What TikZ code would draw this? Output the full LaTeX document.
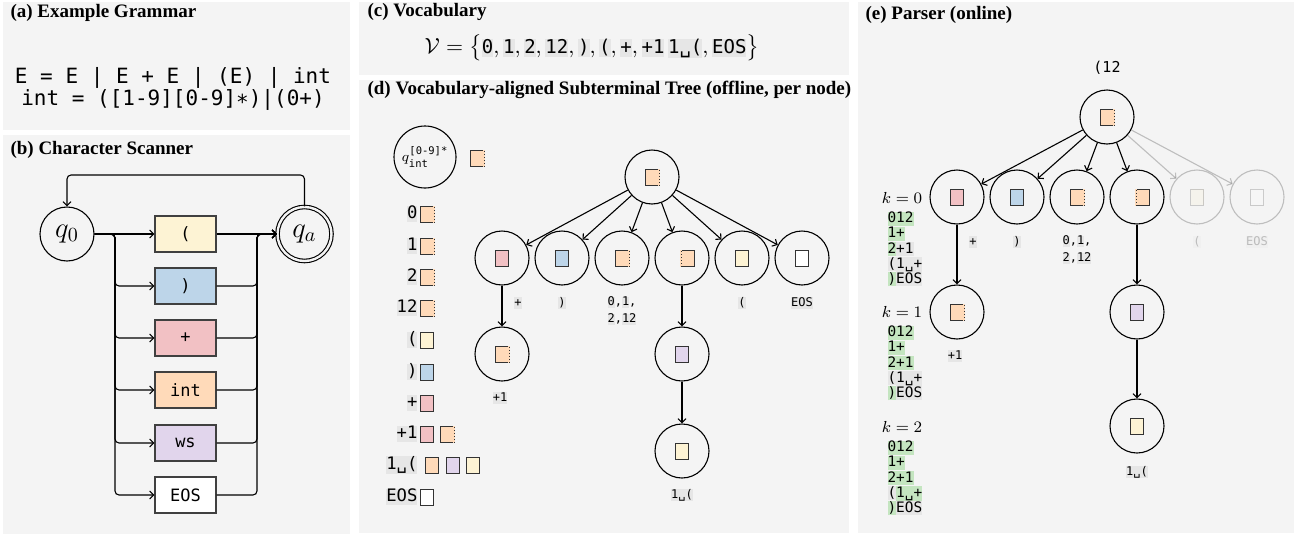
\documentclass[tikz,border=0pt]{standalone}
\usepackage{fontspec}
\usepackage{amsmath}
\setmainfont{Liberation Serif}
\setmonofont{DejaVu Sans Mono}
\usetikzlibrary{calc,positioning,arrows.meta}

\definecolor{panelbg}{HTML}{F4F4F4}
\definecolor{tokbg}{HTML}{E6E6E6}
\definecolor{tokgreen}{HTML}{C4E5C0}
\definecolor{yelc}{HTML}{FDF3D4}
\definecolor{bluec}{HTML}{BDD5E9}
\definecolor{pinkc}{HTML}{F2C1C4}
\definecolor{intc}{HTML}{FFDAB9}
\definecolor{wsc}{HTML}{E1D5EC}

\setlength{\fboxsep}{0pt}
\newcommand\tk[1]{\colorbox{tokbg}{#1\rule[-.2em]{0pt}{.98em}}}
\newcommand\gk[1]{\colorbox{tokgreen}{#1\rule[-.2em]{0pt}{.98em}}}
\newcommand\vt[1]{\tk{\ttfamily\fontsize{9.5}{11}\selectfont #1}}

\tikzset{
  ttl/.style = {anchor=west, inner sep=0pt, font=\bfseries\fontsize{9.5}{11}\selectfont},
  st/.style = {circle, draw, minimum size=27pt, inner sep=0pt, font=\fontsize{14}{16}\selectfont},
  term/.style = {draw=black!75, fill=#1, minimum width=30.5pt, minimum height=18pt, inner sep=0pt, font=\ttfamily\fontsize{8.5}{10}\selectfont},
  vnode/.style = {circle, draw, minimum size=27pt, inner sep=0pt},
  sq/.style = {draw=black!80, fill=#1, minimum width=6.5pt, minimum height=8pt, inner sep=0pt, line width=.5pt},
  openR/.style = {append after command={
    (\tikzlastnode.south east) edge[draw=intc, line width=.6pt] (\tikzlastnode.north east)
    (\tikzlastnode.south east) edge[draw=black!80, densely dotted, line width=.5pt] (\tikzlastnode.north east)}},
  openL/.style = {xshift=3pt, append after command={
    (\tikzlastnode.south west) edge[draw=intc, line width=.6pt] (\tikzlastnode.north west)
    (\tikzlastnode.south west) edge[draw=black!80, densely dotted, line width=.5pt] (\tikzlastnode.north west)}},
  lst/.style = {anchor=east, inner sep=0pt, font=\ttfamily\fontsize{8.6}{10}\selectfont},
  lab/.style = {inner sep=0pt, align=center, font=\ttfamily\fontsize{6}{8.5}\selectfont},
  klab/.style = {inner sep=0pt, font=\fontsize{8.5}{10}\selectfont},
  kblk/.style = {anchor=north west, inner sep=0pt, align=left, font=\ttfamily\fontsize{7.2}{7.6}\selectfont},
  fade/.style = {opacity=.22},
}

\begin{document}
\begin{tikzpicture}[x=0.5pt, y=-0.5pt, line width=.55pt, >={Straight Barb[length=2pt,width=4pt]}]
  \useasboundingbox (0,0) rectangle (1297,536);
% panels
  \fill[panelbg] (3,2) rectangle (350,130);
  \fill[panelbg] (3,135) rectangle (350,534);
  \fill[panelbg] (359,2) rectangle (849,75);
  \fill[panelbg] (359,80) rectangle (849,533);
  \fill[panelbg] (858,2) rectangle (1294,533);
  \node[ttl] (ta) at (10,13) {(a) Example Grammar};
  \node[ttl] (tb) at (10,150) {(b) Character Scanner};
  \node[ttl] (tc) at (367,12) {(c) Vocabulary};
  \node[ttl] (td) at (367,90) {(d) Vocabulary-aligned Subterminal Tree (offline, per node)};
  \node[ttl] (te) at (865,15) {(e) Parser (online)};

% (a) grammar
  \node[align=center, inner sep=0pt, font=\ttfamily\fontsize{10.5}{11}\selectfont] (gram) at (173,89)
    {E = E | E + E | (E) | int\\int = ([1-9][0-9]∗)|(0+)};

% (b) scanner
  \node[st] (q0) at (67,234) {$q_0$};
  \node[st, double=panelbg, double distance=1.2pt] (qa) at (304.5,234) {$q_a$};
  \foreach \n/\t/\c/\y in {lp/(/yelc/234, rp/)/bluec/286, plus/+/pinkc/338, int/int/intc/390, ws/ws/wsc/443, eos/EOS/white/495}
    \node[term=\c] (\n) at (185.5,\y) {\t};
  \coordinate (split) at (115,234);
  \coordinate (merge) at (257,234);
  \coordinate (loop) at (185,175);
  \draw[->] (q0.east) -- (lp.west);
  \draw[->] (lp.east) -- (qa.west);
  \foreach \n in {rp,plus,int,ws,eos}{
    \draw[->, rounded corners=2pt] (q0.east) -- (split) |- (\n.west);
    \draw[->, rounded corners=2pt] (\n.east) -| (merge) -- (qa.west);
  }
  \draw[->, rounded corners=2pt] (qa.north) |- (loop) -| (q0.north);

% (c) vocabulary
  \node[inner sep=0pt, font=\fontsize{11}{13}\selectfont] (voc) at (592,48)
    {$\mathcal{V}=\bigl\{\vt{0},\vt{1},\vt{2},\vt{12},\vt{)},\vt{(},\vt{+},\vt{+1}\,\vt{1␣(},\vt{EOS}\bigr\}$};

% (d) subterminal tree
  \node[vnode, minimum size=31pt, font=\fontsize{7.5}{9}\selectfont] (qint) at (425,157) {$q^{\texttt{[0-9]*}}_{\texttt{int}}$};
  \node[sq=intc, openR] (sqint) at (477,158) {};
  \foreach \n/\t/\y in {t0/0/214, t1/1/246, t2/2/277, t12/12/308, tlp/(/340, trp/)/372, tpl/+/403, tp1/+1/434, t1ws/1␣(/465, teos/EOS/497}
    \node[lst] (\n) at (418,\y) {\tk{\t}};
  \foreach \n/\c/\m in {t0/intc/openR, t1/intc/openR, t2/intc/openR, t12/intc/openR, tlp/yelc/solid, trp/bluec/solid, tpl/pinkc/solid, teos/white/solid}
    \node[sq=\c, \m, right=1pt of \n] (s\n) {};
  \node[sq=pinkc, right=1pt of tp1] (stp1a) {};
  \node[sq=intc, openR, right=3pt of stp1a] (stp1b) {};
  \node[sq=intc, right=3.5pt of t1ws] (st1wsa) {};
  \node[sq=wsc, right=3.5pt of st1wsa] (st1wsb) {};
  \node[sq=yelc, right=3pt of st1wsb] (st1wsc) {};

  \node[vnode] (dr) at (652,177) {};
  \node[sq=intc, openR] (sdr) at (dr) {};
  \foreach \i/\x/\c/\m in {1/502/pinkc/solid, 2/562/bluec/solid, 3/622/intc/openR, 4/682/intc/openL, 5/742/yelc/solid, 6/802/white/solid}{
    \node[vnode] (d\i) at (\x,258) {};
    \node[sq=\c, \m] (sd\i) at (d\i) {};
    \draw[->] (dr) -- (d\i);
  }
  \node[lab] (dl1) at (518,303) {\tk{+}};
  \node[lab] (dl2) at (562,303) {\tk{)}};
  \node[lab] (dl3) at (622,311) {\tk{0},\tk{1},\\\tk{2},\tk{12}};
  \node[lab] (dl5) at (742,303) {\tk{(}};
  \node[lab] (dl6) at (802,303) {\tk{EOS}};
  \node[vnode] (d1a) at (502,354) {};
  \node[sq=intc, openR] (sd1a) at (d1a) {};
  \node[lab] (dl1a) at (500,398) {\tk{+1}};
  \node[vnode] (d4a) at (682,354) {};
  \node[sq=wsc] (sd4a) at (d4a) {};
  \node[vnode] (d4b) at (682,451) {};
  \node[sq=yelc] (sd4b) at (d4b) {};
  \node[lab] (dl4b) at (682,495) {\tk{1␣(}};
  \draw[->] (d1) -- (d1a);
  \draw[->] (d4) -- (d4a);
  \draw[->] (d4a) -- (d4b);

% (e) parser
  \node[inner sep=0pt, font=\ttfamily\fontsize{7.5}{9}\selectfont] (pref) at (1107,68) {(12};
  \node[vnode] (er) at (1107,117) {};
  \node[sq=intc, openR] (ser) at (er) {};
  \foreach \i/\x/\c/\m in {1/957/pinkc/solid, 2/1017/bluec/solid, 3/1077/intc/openR, 4/1137/intc/openL}{
    \node[vnode] (e\i) at (\x,197) {};
    \node[sq=\c, \m] (se\i) at (e\i) {};
    \draw[->] (er) -- (e\i);
  }
  \foreach \i/\x/\c in {5/1197/yelc, 6/1257/white}{
    \node[vnode, fade] (e\i) at (\x,197) {};
    \node[sq=\c, fade] (se\i) at (e\i) {};
    \draw[->, fade] (er) -- (e\i);
  }
  \node[lab] (el1) at (973,242) {\tk{+}};
  \node[lab] (el2) at (1017,242) {\tk{)}};
  \node[lab] (el3) at (1077,250) {\tk{0},\tk{1},\\\tk{2},\tk{12}};
  \node[lab, fade] (el5) at (1197,242) {\tk{(}};
  \node[lab, fade] (el6) at (1257,242) {\tk{EOS}};
  \node[vnode] (e1a) at (957,312) {};
  \node[sq=intc, openR] (se1a) at (e1a) {};
  \node[lab] (el1a) at (955,356) {\tk{+1}};
  \node[vnode] (e4a) at (1137,312) {};
  \node[sq=wsc] (se4a) at (e4a) {};
  \node[vnode] (e4b) at (1137,426) {};
  \node[sq=yelc] (se4b) at (e4b) {};
  \node[lab] (el4b) at (1137,472) {\tk{1␣(}};
  \draw[->] (e1) -- (e1a);
  \draw[->] (e4) -- (e4a);
  \draw[->] (e4a) -- (e4b);

  \node[klab] (k0) at (902,198) {$k=0$};
  \node[klab] (k1) at (902,312) {$k=1$};
  \node[klab] (k2) at (902,427) {$k=2$};
  \node[kblk] (b0) at (887,211) {\gk{0}\gk{12}\\\gk{1}\gk{+}\\\gk{2}\tk{+1}\\\tk{(}\tk{1␣+}\\\gk{)}\tk{EOS}};
  \node[kblk] (b1) at (887,325) {\gk{0}\gk{12}\\\gk{1}\gk{+}\\\gk{2}\gk{+1}\\\tk{(}\tk{1␣+}\\\gk{)}\tk{EOS}};
  \node[kblk] (b2) at (887,440) {\gk{0}\gk{12}\\\gk{1}\gk{+}\\\gk{2}\gk{+1}\\\tk{(}\gk{1␣+}\\\gk{)}\tk{EOS}};
\end{tikzpicture}
\end{document}
